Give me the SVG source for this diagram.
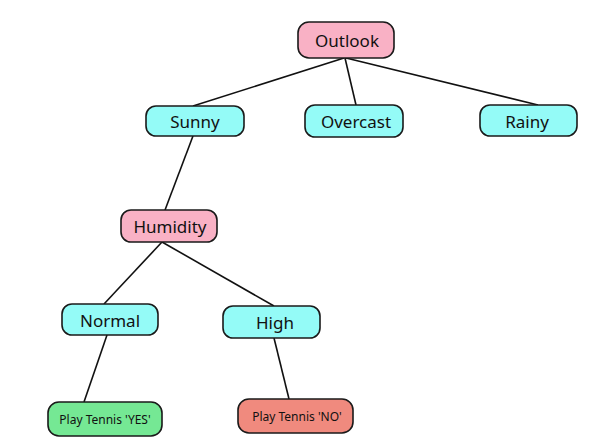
<svg xmlns="http://www.w3.org/2000/svg" width="600" height="446" viewBox="0 0 600 446">
<style>
.n rect{stroke:#1a1a1a;stroke-width:1.6}
.pink{fill:#f9b1c5}
.cyan{fill:#94fbf7}
.green{fill:#75e894}
.red{fill:#f08a7e}
text{font-family:"Noto Sans","Liberation Sans",sans-serif;fill:#111;text-anchor:middle;dominant-baseline:central}
.big{font-size:17px}
.small{font-size:12px}
#edges line{stroke:#111;stroke-width:1.6}
</style>
<rect width="600" height="446" fill="#fff"/>
<g id="edges">
<line x1="344" y1="58" x2="193" y2="106"/>
<line x1="345" y1="58" x2="356" y2="105"/>
<line x1="346" y1="58" x2="538" y2="105"/>
<line x1="193" y1="136" x2="165" y2="210"/>
<line x1="162" y1="242" x2="104" y2="304"/>
<line x1="162" y1="242" x2="274" y2="306"/>
<line x1="107" y1="335" x2="84" y2="402"/>
<line x1="274" y1="338" x2="289" y2="399"/>
</g>
<g id="outlook" class="n"><rect class="pink" x="298" y="22" width="96" height="36" rx="11"/><text class="big" x="347" y="40">Outlook</text></g>
<g id="sunny" class="n"><rect class="cyan" x="146" y="106" width="98" height="30" rx="10"/><text class="big" x="195" y="121">Sunny</text></g>
<g id="overcast" class="n"><rect class="cyan" x="305" y="105" width="98" height="32" rx="10"/><text class="big" x="356" y="121">Overcast</text></g>
<g id="rainy" class="n"><rect class="cyan" x="480" y="105" width="97" height="31" rx="10"/><text class="big" x="527" y="121">Rainy</text></g>
<g id="humidity" class="n"><rect class="pink" x="121" y="210" width="96" height="32" rx="10"/><text class="big" x="170" y="226">Humidity</text></g>
<g id="normal" class="n"><rect class="cyan" x="62" y="304" width="96" height="31" rx="10"/><text class="big" x="110" y="320">Normal</text></g>
<g id="high" class="n"><rect class="cyan" x="223" y="306" width="97" height="32" rx="10"/><text class="big" x="275" y="322">High</text></g>
<g id="yes" class="n"><rect class="green" x="48" y="402" width="114" height="34" rx="11"/><text class="small" x="105" y="419">Play Tennis 'YES'</text></g>
<g id="no" class="n"><rect class="red" x="238" y="399" width="115" height="34" rx="11"/><text class="small" x="297" y="416">Play Tennis 'NO'</text></g>
</svg>
